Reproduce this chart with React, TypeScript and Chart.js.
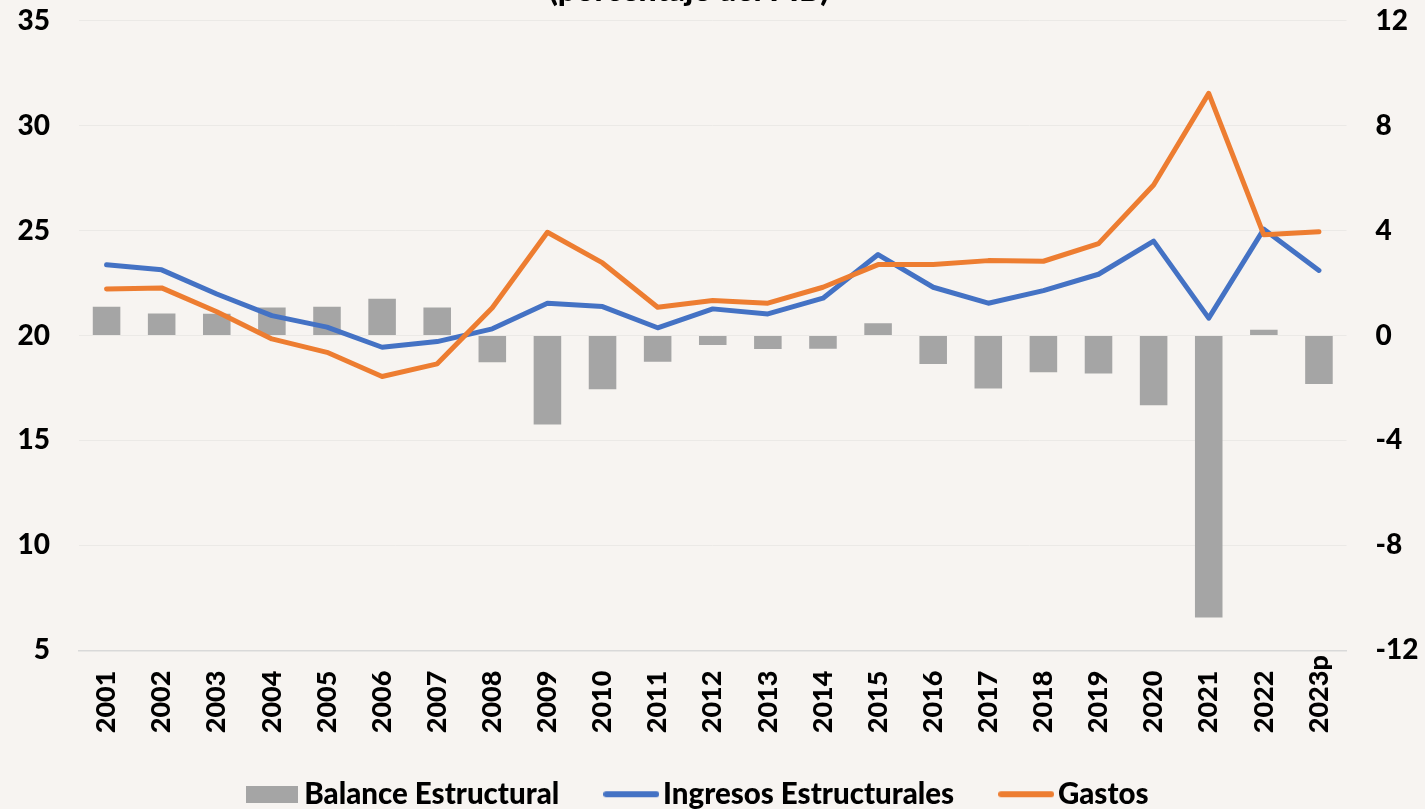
import React, { useEffect, useRef } from "react";
import { Chart, registerables } from "chart.js";

Chart.register(...registerables);

const categories = ["2001", "2002", "2003", "2004", "2005", "2006", "2007", "2008", "2009", "2010", "2011", "2012", "2013", "2014", "2015", "2016", "2017", "2018", "2019", "2020", "2021", "2022", "2023p"];
const balanceEstructural = [1.1, 0.84, 0.83, 1.07, 1.1, 1.4, 1.07, -1.02, -3.39, -2.05, -1.0, -0.36, -0.51, -0.5, 0.47, -1.09, -2.02, -1.4, -1.45, -2.66, -10.75, 0.22, -1.85];
const ingresosEstructurales = [23.37, 23.13, 21.98, 20.95, 20.4, 19.44, 19.71, 20.32, 21.54, 21.38, 20.37, 21.27, 21.03, 21.78, 23.86, 22.3, 21.54, 22.14, 22.92, 24.5, 20.83, 25.07, 23.1];
const gastos = [22.22, 22.27, 21.13, 19.84, 19.2, 18.05, 18.65, 21.32, 24.92, 23.46, 21.35, 21.67, 21.54, 22.3, 23.38, 23.38, 23.57, 23.54, 24.38, 27.17, 31.54, 24.8, 24.95];
const seriesNames = ["Balance Estructural", "Ingresos Estructurales", "Gastos"];
const leftAxis = { min: 5, max: 35, step: 5 };
const rightAxis = { min: -12, max: 12, step: 4 };
const subtitle = "(porcentaje del PIB)";

const GRAY = "#a5a5a5";
const BLUE = "#4472c4";
const ORANGE = "#ed7d31";
const BG = "#f7f4f1";
const FONT = "Lato";
const WEIGHT = "900";
const TOP_SHIFT = 25;

function rectMarker(color: string, w: number, h: number) {
  const c = document.createElement("canvas");
  c.width = w;
  c.height = h;
  const g = c.getContext("2d")!;
  g.fillStyle = color;
  g.fillRect(0, 0, w, h);
  return c;
}

function lineMarker(color: string, w: number, lw: number) {
  const c = document.createElement("canvas");
  c.width = w;
  c.height = lw + 2;
  const g = c.getContext("2d")!;
  g.strokeStyle = color;
  g.lineWidth = lw;
  g.lineCap = "round";
  g.beginPath();
  g.moveTo(lw / 2, (lw + 2) / 2);
  g.lineTo(w - lw / 2, (lw + 2) / 2);
  g.stroke();
  return c;
}

const xLabelsPlugin = {
  id: "xLabelsBottomAligned",
  afterDraw(chart: any) {
    const ctx = chart.ctx;
    const xs = chart.scales.x;
    ctx.save();
    ctx.font = `${WEIGHT} 27px ${FONT}`;
    ctx.fillStyle = "#000";
    ctx.textAlign = "left";
    ctx.textBaseline = "middle";
    categories.forEach((lab, i) => {
      const x = xs.getPixelForTick(i);
      ctx.save();
      ctx.translate(x, xs.top + 83);
      ctx.rotate(-Math.PI / 2);
      ctx.fillText(lab, 0, 0);
      ctx.restore();
    });
    ctx.restore();
  },
};

const subtitlePlugin = {
  id: "cutSubtitle",
  afterDraw(chart: any) {
    const ctx = chart.ctx;
    ctx.save();
    ctx.font = `${WEIGHT} 32px ${FONT}`;
    ctx.fillStyle = "#000";
    ctx.textAlign = "center";
    ctx.textBaseline = "alphabetic";
    ctx.fillText(subtitle, 689, TOP_SHIFT + 1);
    ctx.restore();
  },
};

export default function App() {
  const ref = useRef<HTMLCanvasElement | null>(null);

  useEffect(() => {
    if (!ref.current) return;
    const markers = [rectMarker(GRAY, 52, 17), lineMarker(BLUE, 56, 6), lineMarker(ORANGE, 56, 6)];
    const chart = new Chart(ref.current, {
      type: "bar",
      data: {
        labels: categories,
        datasets: [
          {
            type: "bar",
            label: seriesNames[0],
            data: balanceEstructural,
            backgroundColor: GRAY,
            borderWidth: 0,
            yAxisID: "y1",
            barPercentage: 0.5,
            categoryPercentage: 1,
            order: 2,
          } as any,
          {
            type: "line",
            label: seriesNames[1],
            data: ingresosEstructurales,
            borderColor: BLUE,
            backgroundColor: BLUE,
            borderWidth: 5,
            pointRadius: 0,
            tension: 0,
            borderCapStyle: "round",
            borderJoinStyle: "round",
            yAxisID: "y",
            order: 1,
          },
          {
            type: "line",
            label: seriesNames[2],
            data: gastos,
            borderColor: ORANGE,
            backgroundColor: ORANGE,
            borderWidth: 5,
            pointRadius: 0,
            tension: 0,
            borderCapStyle: "round",
            borderJoinStyle: "round",
            yAxisID: "y",
            order: 0,
          },
        ],
      },
      options: {
        responsive: false,
        animation: false,
        layout: { padding: { top: 0, left: 0, right: 0, bottom: 0 } },
        plugins: {
          tooltip: { enabled: false },
          title: { display: false },
          legend: {
            position: "bottom",
            labels: {
              usePointStyle: true,
              pointStyleWidth: 34,
              boxHeight: 17,
              padding: 55,
              color: "#000",
              font: { family: FONT, size: 29.5, weight: WEIGHT },
              generateLabels: () =>
                seriesNames.map((name, i) => ({
                  text: i === 2 ? name + "   " : name,
                  fillStyle: [GRAY, BLUE, ORANGE][i],
                  strokeStyle: [GRAY, BLUE, ORANGE][i],
                  lineWidth: 0,
                  pointStyle: markers[i],
                  datasetIndex: i,
                  hidden: false,
                  fontColor: "#000",
                })) as any,
            },
          },
        },
        scales: {
          x: {
            offset: true,
            grid: { display: false, drawTicks: false },
            border: { display: true, color: "#d9d9d9", width: 1.5 },
            ticks: { display: false },
            afterFit: (s: any) => {
              s.height = 74.25;
            },
          },
          y: {
            position: "left",
            min: leftAxis.min,
            max: leftAxis.max,
            ticks: {
              stepSize: leftAxis.step,
              padding: 29,
              color: "#000",
              font: { family: FONT, size: 28, weight: WEIGHT },
            },
            grid: { color: "#ebe9e6", lineWidth: 1, drawTicks: false },
            border: { display: false },
            afterFit: (s: any) => {
              s.width = 79;
            },
          },
          y1: {
            position: "right",
            min: rightAxis.min,
            max: rightAxis.max,
            ticks: {
              stepSize: rightAxis.step,
              padding: 29,
              color: "#000",
              font: { family: FONT, size: 28, weight: WEIGHT },
            },
            grid: { drawOnChartArea: false, drawTicks: false },
            border: { display: false },
            afterFit: (s: any) => {
              s.width = 78.5;
            },
          },
        },
      },
      plugins: [xLabelsPlugin, subtitlePlugin],
    });
    return () => chart.destroy();
  }, []);

  return (
    <div
      style={{
        position: "fixed",
        left: 0,
        top: 0,
        width: 1425,
        height: 809,
        overflow: "hidden",
        background: BG,
      }}
    >
      <canvas
        ref={ref}
        width={1425}
        height={844}
        style={{ display: "block", marginTop: -TOP_SHIFT }}
      />
    </div>
  );
}
